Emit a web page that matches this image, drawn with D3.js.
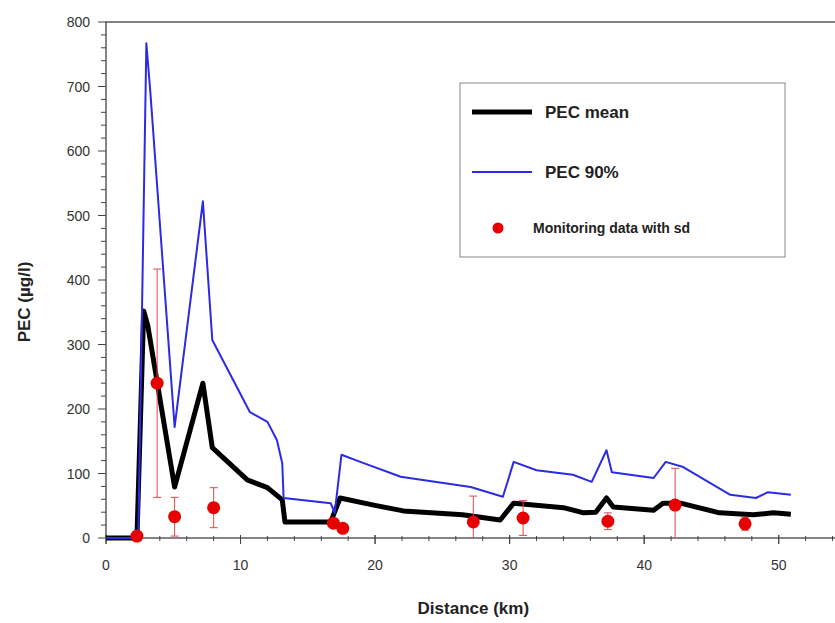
<!DOCTYPE html>
<html>
  <head>
    <title>PEC along the river</title>
    <script src="https://d3js.org/d3.v7.min.js" charset="utf-8"></script>
    <style>
      body {
        margin: 0;
        background: #fff;
      }
      svg {
        display: block;
        font-family: "Liberation Sans", Arial, sans-serif;
      }
      .tick-label {
        font-size: 14px;
        fill: #333;
      }
      .axis-title {
        font-size: 17px;
        font-weight: bold;
        fill: #222;
      }
      .legend-text {
        font-weight: bold;
        fill: #222;
      }
    </style>
  </head>
  <body>
    <svg></svg>
    <script>
      // PEC mean (thick black line)
      const meanDist = [0, 2.3, 2.8, 3.1, 5.1, 7.2, 7.9, 10.5, 12, 13.1, 13.3, 16.7, 17.4, 19.9, 22.1, 26.5, 29.3, 30.3, 34, 35.5, 36.4, 37.2, 37.7, 40.7, 41.4, 42.7, 45.6, 48.1, 49.6, 50.9];
      const meanPec = [0, 0, 352, 330, 79, 240, 140, 90, 78, 59, 25, 25, 62, 51, 42, 36, 28, 54, 47, 39, 40, 62, 48, 43, 54, 54, 39, 36, 39, 37];

      // PEC 90% (thin blue line)
      const p90Dist = [0, 2.4, 3.0, 3.3, 5.1, 7.2, 7.9, 10.7, 12, 12.7, 13.1, 13.2, 16.7, 17.0, 17.5, 18.9, 21.9, 27.1, 29.5, 30.3, 32, 34.7, 36.1, 37.2, 37.6, 40.7, 41.6, 42.9, 46.4, 48.3, 49.2, 50.9];
      const p90Pec = [0, 0, 767, 690, 172, 522, 307, 195, 180, 152, 116, 62, 54, 39, 129, 118, 95, 79, 64, 118, 105, 98, 87, 136, 102, 93, 118, 110, 67, 62, 71, 67];

      // monitoring data with standard deviation
      const monDist = [2.3, 3.8, 5.1, 8.0, 16.9, 17.6, 27.3, 31.0, 37.3, 42.3, 47.5];
      const monPec = [3, 240, 33, 47, 23, 15, 25, 31, 26, 51, 22];
      const monSd = [0, 177, 30, 31, 0, 0, 40, 27, 13, 57, 10];

      const xTicks = [0, 10, 20, 30, 40, 50];
      const yTicks = [0, 100, 200, 300, 400, 500, 600, 700, 800];

      const totalWidth = 835;
      const totalHeight = 623;
      const margin = { top: 22, bottom: 85, left: 106, right: -11 };
      const width = totalWidth - margin.left - margin.right;
      const height = totalHeight - margin.top - margin.bottom;

      const svg = d3
        .select("svg")
        .attr("width", totalWidth)
        .attr("height", totalHeight);

      const g = svg
        .append("g")
        .attr("transform", `translate(${margin.left}, ${margin.top})`);

      const x = d3.scaleLinear().domain([0, 55]).range([0, width]);
      const y = d3.scaleLinear().domain([0, 800]).range([height, 0]).clamp(true);

      const axisColor = "#444";

      // frame (right side falls outside the picture)
      g.append("rect")
        .attr("x", 0)
        .attr("y", 0)
        .attr("width", width)
        .attr("height", height)
        .attr("fill", "none")
        .attr("stroke", axisColor)
        .attr("stroke-width", 1.3);

      // y axis ticks
      const yMinor = d3.range(0, 801, 20);
      g.selectAll(".y-minor")
        .data(yMinor)
        .enter()
        .append("line")
        .attr("x1", (d) => (d % 100 === 0 ? -8 : -5))
        .attr("x2", 0)
        .attr("y1", (d) => y(d))
        .attr("y2", (d) => y(d))
        .attr("stroke", axisColor)
        .attr("stroke-width", 1);

      g.selectAll(".y-label")
        .data(yTicks)
        .enter()
        .append("text")
        .attr("class", "tick-label")
        .attr("x", -16)
        .attr("y", (d) => y(d) + 5)
        .attr("text-anchor", "end")
        .text((d) => d);

      // x axis ticks
      const xMinor = d3.range(0, 55, 2).concat(xTicks);
      g.selectAll(".x-minor")
        .data(xMinor)
        .enter()
        .append("line")
        .attr("x1", (d) => x(d))
        .attr("x2", (d) => x(d))
        .attr("y1", (d) => (d % 10 === 0 ? height - 3 : height - 2))
        .attr("y2", (d) => (d % 10 === 0 ? height + 6 : height + 3))
        .attr("stroke", axisColor)
        .attr("stroke-width", 1);

      g.selectAll(".x-label")
        .data(xTicks)
        .enter()
        .append("text")
        .attr("class", "tick-label")
        .attr("x", (d) => x(d))
        .attr("y", height + 32)
        .attr("text-anchor", "middle")
        .text((d) => d);

      // axis titles
      g.append("text")
        .attr("class", "axis-title")
        .attr("x", x(27.3))
        .attr("y", height + 76)
        .attr("text-anchor", "middle")
        .text("Distance (km)");

      g.append("text")
        .attr("class", "axis-title")
        .attr("transform", "rotate(-90)")
        .attr("x", -(y(400) + 22))
        .attr("y", -76)
        .attr("text-anchor", "middle")
        .text("PEC (µg/l)");

      const line = d3
        .line()
        .x((d) => x(d[0]))
        .y((d) => y(d[1]));

      const p90Data = p90Dist.map((d, i) => [d, p90Pec[i]]);
      const meanData = meanDist.map((d, i) => [d, meanPec[i]]);

      g.append("path")
        .datum(meanData)
        .attr("fill", "none")
        .attr("stroke", "#000")
        .attr("stroke-width", 5)
        .attr("stroke-linejoin", "round")
        .attr("d", line);

      g.append("path")
        .datum(p90Data)
        .attr("fill", "none")
        .attr("stroke", "#2b2be6")
        .attr("stroke-width", 2)
        .attr("stroke-linejoin", "round")
        .attr("d", line);

      // monitoring points with error bars
      const monData = monDist.map((d, i) => ({
        dist: d,
        pec: monPec[i],
        sd: monSd[i],
      }));
      const errColor = "#e04848";

      const err = g
        .selectAll(".err")
        .data(monData.filter((d) => d.sd > 0))
        .enter()
        .append("g");

      err.append("line")
        .attr("x1", (d) => x(d.dist))
        .attr("x2", (d) => x(d.dist))
        .attr("y1", (d) => y(d.pec + d.sd))
        .attr("y2", (d) => y(d.pec - d.sd))
        .attr("stroke", errColor)
        .attr("stroke-width", 1);

      err.append("line")
        .attr("x1", (d) => x(d.dist) - 4)
        .attr("x2", (d) => x(d.dist) + 4)
        .attr("y1", (d) => y(d.pec + d.sd))
        .attr("y2", (d) => y(d.pec + d.sd))
        .attr("stroke", errColor)
        .attr("stroke-width", 1);

      err.filter((d) => d.pec - d.sd > 0)
        .append("line")
        .attr("x1", (d) => x(d.dist) - 4)
        .attr("x2", (d) => x(d.dist) + 4)
        .attr("y1", (d) => y(d.pec - d.sd))
        .attr("y2", (d) => y(d.pec - d.sd))
        .attr("stroke", errColor)
        .attr("stroke-width", 1);

      g.selectAll(".mon")
        .data(monData)
        .enter()
        .append("circle")
        .attr("cx", (d) => x(d.dist))
        .attr("cy", (d) => y(d.pec))
        .attr("r", 6.5)
        .attr("fill", "#e60000");

      // legend
      const legend = svg.append("g").attr("transform", "translate(460, 83)");

      legend
        .append("rect")
        .attr("width", 325)
        .attr("height", 174)
        .attr("fill", "#fff")
        .attr("stroke", "#888")
        .attr("stroke-width", 1);

      legend
        .append("line")
        .attr("x1", 12)
        .attr("x2", 72)
        .attr("y1", 29)
        .attr("y2", 29)
        .attr("stroke", "#000")
        .attr("stroke-width", 5);
      legend
        .append("text")
        .attr("class", "legend-text")
        .attr("x", 85)
        .attr("y", 35)
        .style("font-size", "17px")
        .text("PEC mean");

      legend
        .append("line")
        .attr("x1", 12)
        .attr("x2", 72)
        .attr("y1", 89)
        .attr("y2", 89)
        .attr("stroke", "#2b2be6")
        .attr("stroke-width", 2);
      legend
        .append("text")
        .attr("class", "legend-text")
        .attr("x", 85)
        .attr("y", 95)
        .style("font-size", "17px")
        .text("PEC 90%");

      legend
        .append("circle")
        .attr("cx", 38)
        .attr("cy", 145)
        .attr("r", 5.5)
        .attr("fill", "#e60000");
      legend
        .append("text")
        .attr("class", "legend-text")
        .attr("x", 73)
        .attr("y", 150)
        .style("font-size", "14px")
        .text("Monitoring data with sd");
    </script>
  </body>
</html>
